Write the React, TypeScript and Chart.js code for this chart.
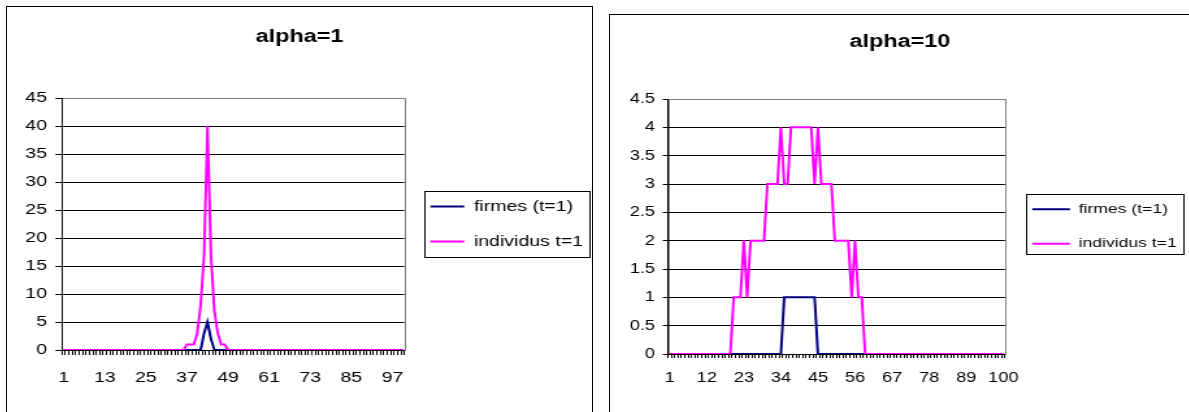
import { useEffect, useRef } from 'react';
import { Chart, registerables } from 'chart.js';

Chart.register(...registerables);

const STRETCH = 1.3;
const FONT = '"Liberation Sans", Arial, Helvetica, sans-serif';

// ---------- data ----------
const categories = Array.from({ length: 100 }, (_, i) => String(i + 1));
const seriesNames = ['firmes (t=1)', 'individus t=1'];

const leftTitle = 'alpha=1';
const leftFirmes = [
  0, 0, 0, 0, 0, 0, 0, 0, 0, 0,
  0, 0, 0, 0, 0, 0, 0, 0, 0, 0,
  0, 0, 0, 0, 0, 0, 0, 0, 0, 0,
  0, 0, 0, 0, 0, 0, 0, 0, 0, 0,
  0, 3, 5, 2, 0, 0, 0, 0, 0, 0,
  0, 0, 0, 0, 0, 0, 0, 0, 0, 0,
  0, 0, 0, 0, 0, 0, 0, 0, 0, 0,
  0, 0, 0, 0, 0, 0, 0, 0, 0, 0,
  0, 0, 0, 0, 0, 0, 0, 0, 0, 0,
  0, 0, 0, 0, 0, 0, 0, 0, 0, 0,
];
const leftIndividus = [
  0, 0, 0, 0, 0, 0, 0, 0, 0, 0,
  0, 0, 0, 0, 0, 0, 0, 0, 0, 0,
  0, 0, 0, 0, 0, 0, 0, 0, 0, 0,
  0, 0, 0, 0, 0, 0, 1, 1, 1, 3,
  8, 17, 40, 17, 7, 3, 1, 1, 0, 0,
  0, 0, 0, 0, 0, 0, 0, 0, 0, 0,
  0, 0, 0, 0, 0, 0, 0, 0, 0, 0,
  0, 0, 0, 0, 0, 0, 0, 0, 0, 0,
  0, 0, 0, 0, 0, 0, 0, 0, 0, 0,
  0, 0, 0, 0, 0, 0, 0, 0, 0, 0,
];
const leftXTickLabels = ['1', '13', '25', '37', '49', '61', '73', '85', '97'];
const leftYMax = 45;
const leftYStep = 5;

const rightTitle = 'alpha=10';
const rightFirmes = [
  0, 0, 0, 0, 0, 0, 0, 0, 0, 0,
  0, 0, 0, 0, 0, 0, 0, 0, 0, 0,
  0, 0, 0, 0, 0, 0, 0, 0, 0, 0,
  0, 0, 0, 0, 1, 1, 1, 1, 1, 1,
  1, 1, 1, 1, 0, 0, 0, 0, 0, 0,
  0, 0, 0, 0, 0, 0, 0, 0, 0, 0,
  0, 0, 0, 0, 0, 0, 0, 0, 0, 0,
  0, 0, 0, 0, 0, 0, 0, 0, 0, 0,
  0, 0, 0, 0, 0, 0, 0, 0, 0, 0,
  0, 0, 0, 0, 0, 0, 0, 0, 0, 0,
];
const rightIndividus = [
  0, 0, 0, 0, 0, 0, 0, 0, 0, 0,
  0, 0, 0, 0, 0, 0, 0, 0, 0, 1,
  1, 1, 2, 1, 2, 2, 2, 2, 2, 3,
  3, 3, 3, 4, 3, 3, 4, 4, 4, 4,
  4, 4, 4, 3, 4, 3, 3, 3, 3, 2,
  2, 2, 2, 2, 1, 2, 1, 1, 0, 0,
  0, 0, 0, 0, 0, 0, 0, 0, 0, 0,
  0, 0, 0, 0, 0, 0, 0, 0, 0, 0,
  0, 0, 0, 0, 0, 0, 0, 0, 0, 0,
  0, 0, 0, 0, 0, 0, 0, 0, 0, 0,
];
const rightXTickLabels = ['1', '12', '23', '34', '45', '56', '67', '78', '89', '100'];
const rightYMax = 4.5;
const rightYStep = 0.5;

const colorFirmes = '#000080';
const colorIndividus = '#FF00FF';

// ---------- layout configs ----------
type PanelCfg = {
  frameLeft: number; frameTop: number; innerW: number;
  W: number; H: number;
  title: string; firmes: number[]; individus: number[];
  xLabels: string[]; yMax: number; yStep: number;
  fs: number; legendFs: number; titleSize: number; titlePadTop: number; titlePadBottom: number;
  padSide: number; yWidth: number; yTickLen: number; yTickPad: number;
  xHeight: number; xTickLen: number; xTickPad: number;
  legendPad: number; legendLineW: number;
  box: { l: number; r: number; t: number; b: number };
};

const leftCfg: PanelCfg = {
  frameLeft: 6, frameTop: 6, innerW: 585, W: 450, H: 405,
  title: leftTitle, firmes: leftFirmes, individus: leftIndividus,
  xLabels: leftXTickLabels, yMax: leftYMax, yStep: leftYStep,
  fs: 15, legendFs: 15, titleSize: 18, titlePadTop: 19.2, titlePadBottom: 50.2,
  padSide: -3, yWidth: 45.3, yTickLen: 5, yTickPad: 6.5,
  xHeight: 62, xTickLen: 5, xTickPad: 14,
  legendPad: 20, legendLineW: 26,
  box: { l: 4.6, r: 4.6, t: 16, b: 15 },
};

const rightCfg: PanelCfg = {
  frameLeft: 609, frameTop: 14, innerW: 580, W: 446, H: 397,
  title: rightTitle, firmes: rightFirmes, individus: rightIndividus,
  xLabels: rightXTickLabels, yMax: rightYMax, yStep: rightYStep,
  fs: 14, legendFs: 13.5, titleSize: 18, titlePadTop: 16.2, titlePadBottom: 46.2,
  padSide: 0, yWidth: 44.6, yTickLen: 4, yTickPad: 6,
  xHeight: 58, xTickLen: 4, xTickPad: 11.6,
  legendPad: 21, legendLineW: 29,
  box: { l: 4.6, r: 5.4, t: 15, b: 10 },
};

const plotFrame = {
  id: 'plotFrame',
  beforeDraw(chart: any) {
    const { ctx, chartArea: a } = chart;
    ctx.save();
    ctx.strokeStyle = '#808080';
    ctx.lineWidth = 1;
    const l = Math.round(a.left) + 0.5;
    const t = Math.round(a.top) + 0.5;
    const r = Math.round(a.right) + 0.5;
    const b = Math.round(a.bottom) + 0.5;
    ctx.strokeRect(l, t, r - l, b - t);
    ctx.restore();
  },
};

function legendBox(box: PanelCfg['box']) {
  return {
    id: 'legendBox',
    afterDraw(chart: any) {
      const hb = chart.legend && chart.legend.legendHitBoxes;
      if (!hb || !hb.length) return;
      let l = Infinity;
      let r = -Infinity;
      hb.forEach((h: any) => {
        l = Math.min(l, h.left);
        r = Math.max(r, h.left + h.width);
      });
      const top = hb[0].top + hb[0].height / 2 - box.t;
      const last = hb[hb.length - 1];
      const bottom = last.top + last.height / 2 + box.b;
      const x0 = Math.round(l - box.l) + 0.5;
      const x1 = Math.round(r + box.r) + 0.5;
      const y0 = Math.round(top) + 0.5;
      const y1 = Math.round(bottom) + 0.5;
      const ctx = chart.ctx;
      ctx.save();
      ctx.strokeStyle = '#000';
      ctx.lineWidth = 1;
      ctx.strokeRect(x0, y0, x1 - x0, y1 - y0);
      ctx.restore();
    },
  };
}

function buildConfig(c: PanelCfg): any {
  return {
    type: 'line',
    data: {
      labels: categories,
      datasets: [
        {
          label: seriesNames[0],
          data: c.firmes,
          borderColor: colorFirmes,
          backgroundColor: colorFirmes,
          borderWidth: 2,
          pointRadius: 0,
          pointBorderWidth: 2,
          pointBorderColor: colorFirmes,
          tension: 0,
          fill: false,
          order: 1,
        },
        {
          label: seriesNames[1],
          data: c.individus,
          borderColor: colorIndividus,
          backgroundColor: colorIndividus,
          borderWidth: 2,
          pointRadius: 0,
          pointBorderWidth: 2,
          pointBorderColor: colorIndividus,
          tension: 0,
          fill: false,
          order: 0,
        },
      ],
    },
    options: {
      responsive: false,
      animation: false,
      events: [],
      devicePixelRatio: 1,
      layout: { padding: { left: c.padSide, right: c.padSide, top: 0, bottom: 0 } },
      font: { family: FONT },
      color: '#000',
      plugins: {
        tooltip: { enabled: false },
        title: {
          display: true,
          text: c.title,
          color: '#000',
          font: { family: FONT, size: c.titleSize, weight: 'bold' },
          padding: { top: c.titlePadTop, bottom: c.titlePadBottom },
        },
        legend: {
          display: true,
          position: 'right',
          align: 'center',
          fullSize: false,
          maxWidth: 300,
          labels: {
            usePointStyle: true,
            pointStyle: 'line',
            pointStyleWidth: c.legendLineW,
            color: '#000',
            padding: c.legendPad,
            font: { family: FONT, size: c.legendFs },
            sort: (a: any, b: any) => a.datasetIndex - b.datasetIndex,
          },
        },
      },
      scales: {
        x: {
          type: 'category',
          offset: true,
          grid: {
            offset: true,
            drawOnChartArea: false,
            drawTicks: true,
            tickLength: c.xTickLen,
            color: '#000',
            lineWidth: 1,
          },
          border: { display: true, color: '#000', width: 1 },
          ticks: {
            autoSkip: false,
            maxRotation: 0,
            minRotation: 0,
            padding: c.xTickPad,
            color: '#000',
            font: { family: FONT, size: c.fs },
            callback: (_v: any, i: number) => (c.xLabels.includes(categories[i]) ? categories[i] : ''),
          },
          afterFit: (s: any) => {
            s.height = c.xHeight;
          },
        },
        y: {
          type: 'linear',
          min: 0,
          max: c.yMax,
          grid: {
            color: (ctx: any) => (ctx.tick && ctx.tick.value === c.yMax ? '#808080' : '#000'),
            tickColor: '#000',
            lineWidth: 1,
            drawTicks: true,
            tickLength: c.yTickLen,
          },
          border: { display: true, color: '#000', width: 1 },
          ticks: {
            stepSize: c.yStep,
            padding: c.yTickPad,
            color: '#000',
            font: { family: FONT, size: c.fs },
            callback: (v: any) => String(Number(v)),
          },
          afterFit: (s: any) => {
            s.width = c.yWidth;
          },
        },
      },
    },
    plugins: [plotFrame, legendBox(c.box)],
  };
}

function Panel({ cfg }: { cfg: PanelCfg }) {
  const ref = useRef<HTMLCanvasElement>(null);
  useEffect(() => {
    if (!ref.current) return;
    const chart = new Chart(ref.current, buildConfig(cfg));
    return () => chart.destroy();
  }, [cfg]);
  return (
    <div
      style={{
        position: 'absolute',
        left: cfg.frameLeft,
        top: cfg.frameTop,
        width: cfg.innerW,
        height: 420,
        border: '1px solid #000',
        overflow: 'hidden',
        background: '#fff',
      }}
    >
      <div
        style={{
          width: cfg.W,
          height: cfg.H,
          transform: `scaleX(${STRETCH})`,
          transformOrigin: '0 0',
        }}
      >
        <canvas
          ref={ref}
          width={cfg.W}
          height={cfg.H}
          style={{ width: cfg.W, height: cfg.H, display: 'block' }}
        />
      </div>
    </div>
  );
}

export default function App() {
  return (
    <div
      style={{
        position: 'fixed',
        left: 0,
        top: 0,
        width: 1189,
        height: 412,
        overflow: 'hidden',
        background: '#fff',
      }}
    >
      <Panel cfg={leftCfg} />
      <Panel cfg={rightCfg} />
    </div>
  );
}
